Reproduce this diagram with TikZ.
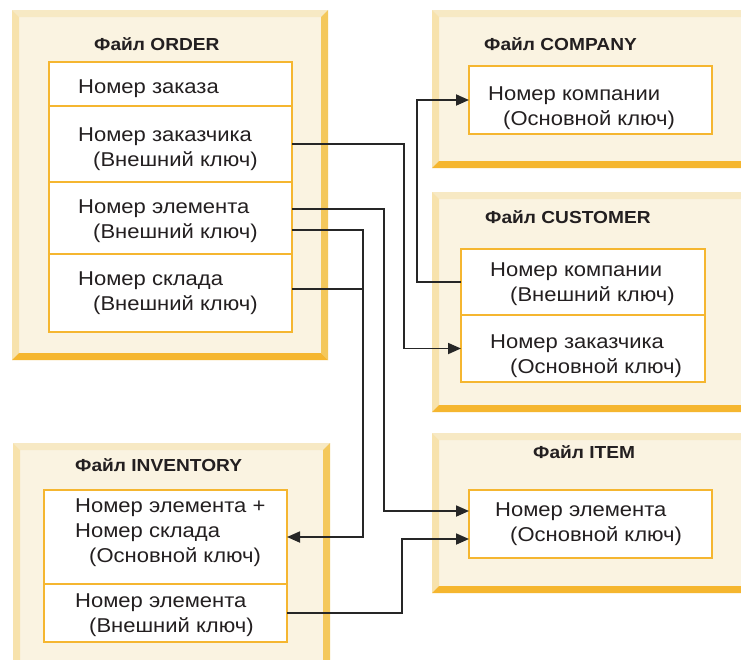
\documentclass[tikz,border=0pt]{standalone}
\usepackage{fontspec}
\setmainfont[FakeStretch=1.1]{Liberation Sans}
\usetikzlibrary{arrows.meta}

\definecolor{panelfill}{HTML}{FAF3E1}
\definecolor{bevelT}{HTML}{F7E9C4}
\definecolor{bevelL}{HTML}{F7E2AC}
\definecolor{bevelR}{HTML}{F4C85C}
\definecolor{bevelB}{HTML}{F5B62F}
\definecolor{fieldline}{HTML}{F5B630}
\definecolor{wirecol}{HTML}{262626}
\definecolor{textcol}{HTML}{231F20}

% beveled file panel: corners (x1,y1) and (x2,y2), bevel 7
\newcommand{\filepanel}[4]{%
  \fill[panelfill] (#1,#2) rectangle (#3,#4);
  \fill[bevelT] (#1,#2) -- (#3,#2) -- ({#3-7},{#2+7}) -- ({#1+7},{#2+7}) -- cycle;
  \fill[bevelL] (#1,#2) -- ({#1+7},{#2+7}) -- ({#1+7},{#4-7}) -- (#1,#4) -- cycle;
  \fill[bevelR] (#3,#2) -- (#3,#4) -- ({#3-7},{#4-7}) -- ({#3-7},{#2+7}) -- cycle;
  \fill[bevelB] (#1,#4) -- (#3,#4) -- ({#3-7},{#4-7}) -- ({#1+7},{#4-7}) -- cycle;
}

\begin{document}
\begin{tikzpicture}[x=1pt,y=-1pt,
  field/.style={draw=fieldline, line width=1.5pt, fill=white, rectangle,
    anchor=north west, inner sep=0pt, outer sep=0pt},
  txt/.style={anchor=base west, inner sep=0pt, text=textcol,
    font=\fontsize{20}{25}\selectfont},
  ttl/.style={anchor=base west, inner sep=0pt, text=textcol,
    font=\fontsize{17.4}{20}\selectfont\bfseries},
  wire/.style={draw=wirecol, line width=1.8pt},
  tip/.style={wire, -{Triangle[length=13pt,width=11pt]}},
]
\useasboundingbox (0,0) rectangle (741,659);
\clip (0,0) rectangle (741,659);
\fill[white] (0,0) rectangle (741,659);

% file panels
\filepanel{12}{10}{328}{360}
\filepanel{432}{10}{760}{168}
\filepanel{432}{192}{760}{412}
\filepanel{432}{433}{760}{593}
\filepanel{13}{443}{330}{680}

% ORDER
\node[ttl] (ordtitle) at (94,50) {Файл ORDER};
\node[field, minimum width=243pt, minimum height=44pt] (ordnum)   at (49,62)  {};
\node[field, minimum width=243pt, minimum height=76pt] (ordcust)  at (49,106) {};
\node[field, minimum width=243pt, minimum height=72pt] (ordelem)  at (49,182) {};
\node[field, minimum width=243pt, minimum height=78pt] (ordstore) at (49,254) {};
\node[txt] (o1) at (78,93)  {Номер заказа};
\node[txt] (o2) at (78,141) {Номер заказчика};
\node[txt] (o3) at (93,166) {(Внешний ключ)};
\node[txt] (o4) at (78,213) {Номер элемента};
\node[txt] (o5) at (93,238) {(Внешний ключ)};
\node[txt] (o6) at (78,285) {Номер склада};
\node[txt] (o7) at (93,310) {(Внешний ключ)};

% COMPANY
\node[ttl] (comptitle) at (484,50) {Файл COMPANY};
\node[field, minimum width=243pt, minimum height=68pt] (compkey) at (469,66) {};
\node[txt] (c1) at (488,100) {Номер компании};
\node[txt] (c2) at (503,125) {(Основной ключ)};

% CUSTOMER
\node[ttl] (custtitle) at (485,223) {Файл CUSTOMER};
\node[field, minimum width=244pt, minimum height=66pt] (custco)  at (461,249) {};
\node[field, minimum width=244pt, minimum height=67pt] (custnum) at (461,315) {};
\node[txt] (u1) at (490,276) {Номер компании};
\node[txt] (u2) at (510,301) {(Внешний ключ)};
\node[txt] (u3) at (490,348) {Номер заказчика};
\node[txt] (u4) at (510,373) {(Основной ключ)};

% ITEM
\node[ttl] (itemtitle) at (533,458) {Файл ITEM};
\node[field, minimum width=243pt, minimum height=68pt] (itemkey) at (469,490) {};
\node[txt] (i1) at (495,516) {Номер элемента};
\node[txt] (i2) at (510,541) {(Основной ключ)};

% INVENTORY
\node[ttl] (invtitle) at (75,471) {Файл INVENTORY};
\node[field, minimum width=243pt, minimum height=94pt] (invkey) at (44,490) {};
\node[field, minimum width=243pt, minimum height=58pt] (invfk)  at (44,584) {};
\node[txt] (v1) at (75,512) {Номер элемента +};
\node[txt] (v2) at (75,537) {Номер склада};
\node[txt] (v3) at (89,562) {(Основной ключ)};
\node[txt] (v4) at (75,607) {Номер элемента};
\node[txt] (v5) at (89,632) {(Внешний ключ)};

% bend columns of the connectors
\coordinate (busA) at (404,0);
\coordinate (busB) at (417,0);
\coordinate (busC) at (384,0);
\coordinate (busD) at (363,0);
\coordinate (busF) at (402,0);

% connector end points on the field edges
\coordinate (ordElemA) at ([yshift=9pt]ordelem.east);
\coordinate (ordElemB) at ([yshift=-12pt]ordelem.east);
\coordinate (ordStore) at ([yshift=4pt]ordstore.east);
\coordinate (itemA) at ([yshift=13pt]itemkey.west);
\coordinate (itemB) at ([yshift=-15pt]itemkey.west);

% ORDER.customer -> CUSTOMER.customer
\draw[tip] (ordcust.east) -- (ordcust.east -| busA) -- (custnum.west -| busA) -- (custnum.west);
% CUSTOMER.company -> COMPANY.company
\draw[tip] (custco.west) -- (custco.west -| busB) -- (compkey.west -| busB) -- (compkey.west);
% ORDER.item -> ITEM.item
\draw[tip] (ordElemA) -- (ordElemA -| busC) -- (itemA -| busC) -- (itemA);
% ORDER.item + ORDER.store -> INVENTORY key
\draw[tip] (ordElemB) -- (ordElemB -| busD) -- (invkey.east -| busD) -- (invkey.east);
\draw[wire] (ordStore) -- (ordStore -| busD);
% INVENTORY.item -> ITEM.item
\draw[tip] (invfk.east) -- (invfk.east -| busF) -- (itemB -| busF) -- (itemB);
\end{tikzpicture}
\end{document}
